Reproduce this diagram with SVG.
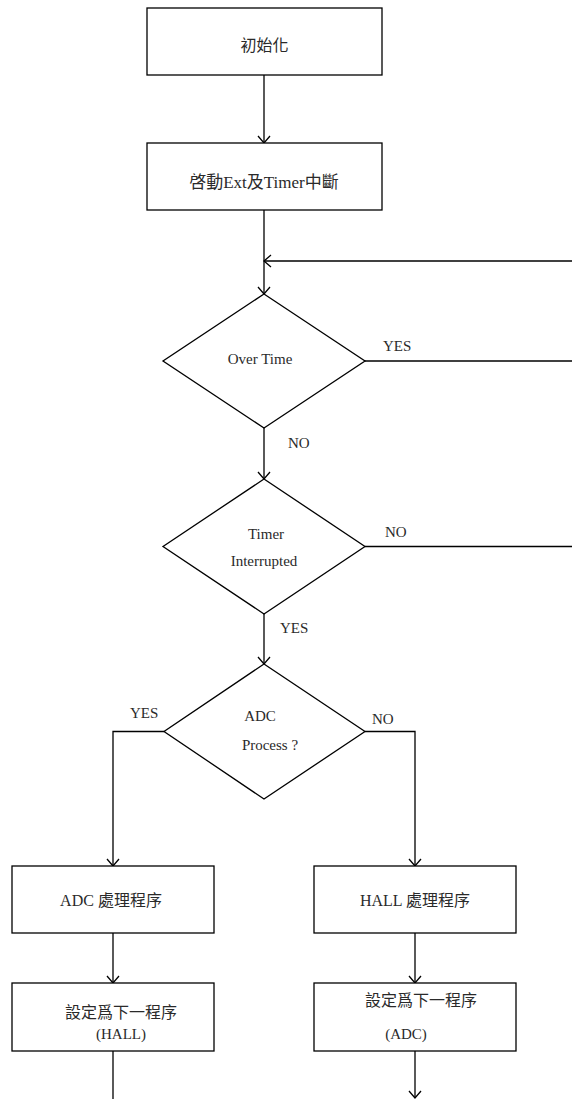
<svg xmlns="http://www.w3.org/2000/svg" width="572" height="1099" viewBox="0 0 572 1099">
<style>
.box{fill:#fff;stroke:#000;stroke-width:1.3}
.ln{fill:none;stroke:#000;stroke-width:1.3}
.t{font-family:"Liberation Serif","Noto Sans CJK TC",serif;font-size:15px;fill:#2a2a2a}
.c{text-anchor:middle}
.cjk{font-size:16px}
</style>
<defs>
<marker id="arr" markerUnits="userSpaceOnUse" markerWidth="14" markerHeight="14" refX="0" refY="0" viewBox="-9 -7 10 14" orient="auto" overflow="visible">
<path d="M-7,-6 L0,0 L-7,6" fill="none" stroke="#000" stroke-width="1.3"/>
</marker>
</defs>
<rect width="572" height="1099" fill="#fff"/>
<g id="connectors">
<line class="ln" x1="264" y1="75" x2="264" y2="143" marker-end="url(#arr)"/>
<line class="ln" x1="264" y1="210" x2="264" y2="294" marker-end="url(#arr)"/>
<line class="ln" x1="572" y1="261" x2="264" y2="261" marker-end="url(#arr)"/>
<line class="ln" x1="365" y1="361" x2="572" y2="361"/>
<line class="ln" x1="264" y1="428" x2="264" y2="479" marker-end="url(#arr)"/>
<line class="ln" x1="365" y1="546.5" x2="572" y2="546.5"/>
<line class="ln" x1="264" y1="614" x2="264" y2="664" marker-end="url(#arr)"/>
<polyline class="ln" points="164,731.5 113,731.5 113,866" marker-end="url(#arr)"/>
<polyline class="ln" points="365,731.5 415,731.5 415,866" marker-end="url(#arr)"/>
<line class="ln" x1="113" y1="933" x2="113" y2="983" marker-end="url(#arr)"/>
<line class="ln" x1="415" y1="933" x2="415" y2="983" marker-end="url(#arr)"/>
<line class="ln" x1="113" y1="1051" x2="113" y2="1099"/>
<line class="ln" x1="415" y1="1051" x2="415" y2="1098" marker-end="url(#arr)"/>
<text class="t" x="383" y="351">YES</text>
<text class="t" x="288" y="448">NO</text>
<text class="t" x="385" y="537">NO</text>
<text class="t" x="280" y="633">YES</text>
<text class="t" x="130" y="718">YES</text>
<text class="t" x="372" y="724">NO</text>
</g>
<g id="init">
<rect class="box" x="147" y="8" width="235" height="67"/>
<text class="t c cjk" x="264.5" y="51">初始化</text>
</g>
<g id="enable">
<rect class="box" x="147" y="143" width="235" height="67"/>
<text class="t c" x="264" y="188" style="font-size:17px">啓動Ext及Timer中斷</text>
</g>
<g id="overtime">
<polygon class="box" points="264,294 365,361 264,428 163,361"/>
<text class="t c" x="260" y="364">Over Time</text>
</g>
<g id="timerint">
<polygon class="box" points="264,479 365,546.5 264,614 163,546.5"/>
<text class="t c" x="266" y="539">Timer</text>
<text class="t c" x="264" y="566">Interrupted</text>
</g>
<g id="adcq">
<polygon class="box" points="264,664 365,731.5 264,799 164,731.5"/>
<text class="t c" x="260" y="721">ADC</text>
<text class="t c" x="270" y="750">Process ?</text>
</g>
<g id="adcproc">
<rect class="box" x="12" y="866" width="202" height="67"/>
<text class="t c cjk" x="111" y="906">ADC 處理程序</text>
</g>
<g id="hallproc">
<rect class="box" x="314" y="866" width="202" height="67"/>
<text class="t c cjk" x="415" y="906">HALL 處理程序</text>
</g>
<g id="setnext1">
<rect class="box" x="12" y="983" width="202" height="68"/>
<text class="t c cjk" x="121" y="1018">設定爲下一程序</text>
<text class="t c" x="121" y="1039">(HALL)</text>
</g>
<g id="setnext2">
<rect class="box" x="314" y="983" width="202" height="68"/>
<text class="t c cjk" x="421" y="1006">設定爲下一程序</text>
<text class="t c" x="406" y="1039">(ADC)</text>
</g>
</svg>
